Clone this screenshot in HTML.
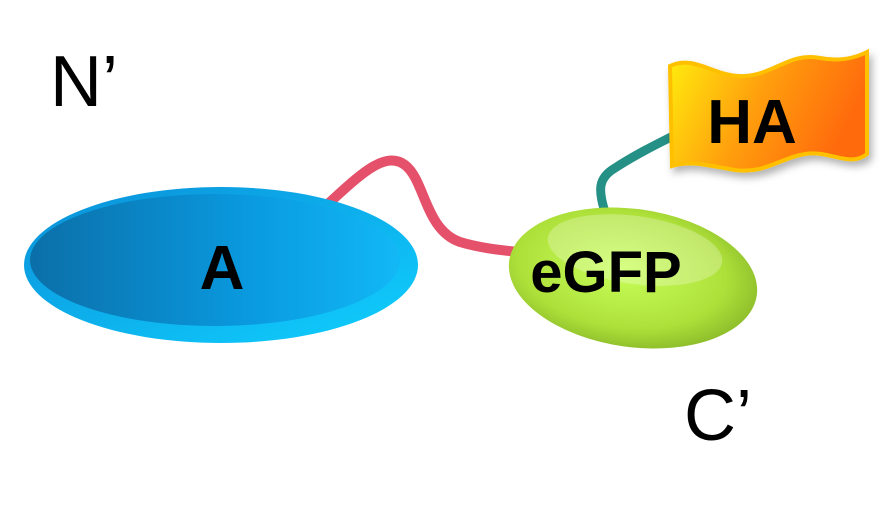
<!DOCTYPE html>
<html><head><meta charset="utf-8"><style>
html,body{margin:0;padding:0;background:#fff;}
svg{display:block;}
text{font-family:"Liberation Sans",sans-serif;}
</style></head><body>
<svg width="887" height="509" viewBox="0 0 887 509" xmlns="http://www.w3.org/2000/svg">
<defs>
<linearGradient id="bo" x1="0" y1="0" x2="1" y2="1">
<stop offset="0" stop-color="#0a8fd8"/><stop offset="1" stop-color="#10d0ff"/></linearGradient>
<linearGradient id="bi" x1="0" y1="0" x2="1" y2="0">
<stop offset="0" stop-color="#0b6fa8"/><stop offset="0.6" stop-color="#0a9ae0"/><stop offset="1" stop-color="#12b8f5"/></linearGradient>
<radialGradient id="gg" cx="0.45" cy="0.45" r="0.6">
<stop offset="0" stop-color="#c8ff5a"/><stop offset="0.7" stop-color="#aee03a"/><stop offset="1" stop-color="#88b828"/></radialGradient>
<linearGradient id="ha" x1="0" y1="0" x2="1" y2="0.3">
<stop offset="0" stop-color="#ffee10"/><stop offset="0.5" stop-color="#ffa010"/><stop offset="1" stop-color="#ff6a08"/></linearGradient>
<filter id="sh" x="-10%" y="-10%" width="130%" height="140%"><feDropShadow dx="3" dy="5" stdDeviation="4" flood-opacity="0.3"/></filter>
</defs>
<text x="50" y="106" font-size="72" fill="#000">N’</text>
<text x="684" y="440" font-size="72" fill="#000">C’</text>
<path d="M330,202 C360,175 385,150 405,165 C425,180 425,230 460,242 C480,248 500,250 518,252" fill="none" stroke="#e5506a" stroke-width="10" stroke-linecap="round"/>
<path d="M605,212 C598,190 598,178 615,168 C635,155 655,145 675,135" fill="none" stroke="#259086" stroke-width="9"/>
<ellipse cx="221" cy="265" rx="197" ry="78" fill="url(#bo)"/>
<ellipse cx="215" cy="260" rx="185" ry="66" fill="url(#bi)"/>
<text x="222" y="289" font-size="62" font-weight="bold" text-anchor="middle" fill="#000">A</text>
<ellipse cx="633" cy="278" rx="125" ry="69" transform="rotate(8 633 278)" fill="url(#gg)"/>
<ellipse cx="635" cy="250" rx="88" ry="34" transform="rotate(8 635 250)" fill="#fff" opacity="0.25"/>
<text x="606" y="292" font-size="58" font-weight="bold" text-anchor="middle" fill="#000">eGFP</text>
<path d="M670,66 C695,54 715,78 745,76 C775,74 790,52 820,58 C840,62 855,58 867,52 L867,154 C850,168 830,150 805,154 C780,158 765,174 735,170 C710,166 690,160 672,166 Z" fill="url(#ha)" stroke="#ffc000" stroke-width="4" filter="url(#sh)"/>
<text x="752" y="143" font-size="62" font-weight="bold" text-anchor="middle" fill="#000">HA</text>
</svg>
</body></html>
